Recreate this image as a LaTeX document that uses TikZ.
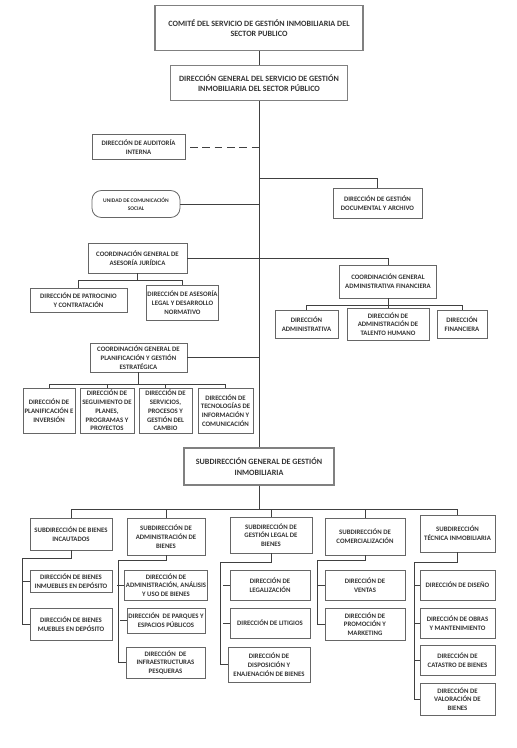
\documentclass[tikz,border=0pt]{standalone}
\usepackage{fontspec}
\setmainfont{Carlito}
\begin{document}
\begin{tikzpicture}[x=0.3mm,y=-0.3mm]
    \tikzstyle{box}=[draw=black!60,line width=0.7pt,align=center,inner sep=1pt,text=black!80,font=\fontsize{5.8}{7.5}\selectfont\bfseries]
    \tikzstyle{head}=[box,draw=black!50,line width=1.5pt,font=\fontsize{6.9}{8.8}\selectfont\bfseries]
    \tikzstyle{link}=[draw=black!75,line width=0.6pt]
    \tikzset{sz/.style 2 args={minimum width=#1*0.3mm,minimum height=#2*0.3mm}}
    \useasboundingbox (0,0) rectangle (517,748);

    % upper part
    \node[head,sz={208}{45}] (comite) at (259,28) {COMITÉ DEL SERVICIO DE GESTIÓN INMOBILIARIA DEL\\SECTOR PUBLICO};
    \node[head,sz={177}{35}] (dirgen) at (259,83) {DIRECCIÓN GENERAL DEL SERVICIO DE GESTIÓN\\INMOBILIARIA DEL SECTOR PÚBLICO};
    \node[box,sz={93}{25}] (auditoria) at (138.5,147) {DIRECCIÓN DE AUDITORÍA\\INTERNA};
    \node[box,sz={88}{27},rounded corners=8pt,font=\fontsize{4.7}{7}\selectfont\bfseries] (unidad) at (136,204) {UNIDAD DE COMUNICACIÓN\\SOCIAL};
    \node[box,sz={89}{30}] (documental) at (377.5,203) {DIRECCIÓN DE GESTIÓN\\DOCUMENTAL Y ARCHIVO};

    \node[box,sz={99}{30}] (asesoria) at (137.5,258) {COORDINACIÓN GENERAL DE\\ASESORÍA JURÍDICA};
    \node[box,sz={97}{24}] (patrocinio) at (78.5,300) {DIRECCIÓN DE PATROCINIO\\Y CONTRATACIÓN};
    \node[box,sz={69}{35}] (asesorialegal) at (182.5,302.5) {DIRECCIÓN DE ASESORÍA\\LEGAL Y DESARROLLO\\NORMATIVO};

    \node[box,sz={97}{33}] (cgaf) at (388,281.5) {COORDINACIÓN GENERAL\\ADMINISTRATIVA FINANCIERA};
    \node[box,sz={63}{28}] (administrativa) at (306.5,324) {DIRECCIÓN\\ADMINISTRATIVA};
    \node[box,sz={82}{32}] (talento) at (388,324) {DIRECCIÓN DE\\ADMINISTRACIÓN DE\\TALENTO HUMANO};
    \node[box,sz={50}{28}] (financiera) at (462,324) {DIRECCIÓN\\FINANCIERA};

    \node[box,sz={97}{29}] (planificacion) at (138.5,357.5) {COORDINACIÓN GENERAL DE\\PLANIFICACIÓN Y GESTIÓN\\ESTRATÉGICA};
    \node[box,sz={52}{45}] (planinv) at (49,410.5) {DIRECCIÓN DE\\PLANIFICACIÓN E\\INVERSIÓN};
    \node[box,sz={54}{45}] (seguimiento) at (107,410.5) {DIRECCIÓN DE\\SEGUIMIENTO DE\\PLANES,\\PROGRAMAS Y\\PROYECTOS};
    \node[box,sz={53}{45}] (servicios) at (165.5,410.5) {DIRECCIÓN DE\\SERVICIOS,\\PROCESOS Y\\GESTIÓN DEL\\CAMBIO};
    \node[box,sz={55}{45}] (tecnologias) at (225.5,410.5) {DIRECCIÓN DE\\TECNOLOGÍAS DE\\INFORMACIÓN Y\\COMUNICACIÓN};

    % lower part
    \node[head,sz={150}{37}] (subgen) at (259,466.5) {SUBDIRECCIÓN GENERAL DE GESTIÓN\\INMOBILIARIA};

    \node[box,sz={82}{32}] (incautados) at (71,534) {SUBDIRECCIÓN DE BIENES\\INCAUTADOS};
    \node[box,sz={78}{37}] (admbienes) at (166,536.5) {SUBDIRECCIÓN DE\\ADMINISTRACIÓN DE\\BIENES};
    \node[box,sz={82}{36}] (gestlegal) at (271,535) {SUBDIRECCIÓN DE\\GESTIÓN LEGAL DE\\BIENES};
    \node[box,sz={80}{37}] (comerc) at (365,536.5) {SUBDIRECCIÓN DE\\COMERCIALIZACIÓN};
    \node[box,sz={75}{37}] (tecnica) at (457.5,533.5) {SUBDIRECCIÓN\\TÉCNICA INMOBILIARIA};

    \node[box,sz={82}{22}] (inmuebles) at (71,581) {DIRECCIÓN DE BIENES\\INMUEBLES EN DEPÓSITO};
    \node[box,sz={82}{32}] (muebles) at (71,624) {DIRECCIÓN DE BIENES\\MUEBLES EN DEPÓSITO};

    \node[box,sz={78}{30}] (analisis) at (166,585) {DIRECCIÓN DE\\ADMINISTRACIÓN, ANÁLISIS\\Y USO DE BIENES};
    \node[box,sz={78}{25}] (parques) at (166,620.5) {DIRECCIÓN \ DE PARQUES Y\\ESPACIOS PÚBLICOS};
    \node[box,sz={79}{31}] (pesqueras) at (165.5,662.5) {DIRECCIÓN \ DE\\INFRAESTRUCTURAS\\PESQUERAS};

    \node[box,sz={80}{30}] (legalizacion) at (270,585) {DIRECCIÓN DE\\LEGALIZACIÓN};
    \node[box,sz={80}{30}] (litigios) at (270,623) {DIRECCIÓN DE LITIGIOS};
    \node[box,sz={82}{35}] (disposicion) at (269,664.5) {DIRECCIÓN DE\\DISPOSICIÓN Y\\ENAJENACIÓN DE BIENES};

    \node[box,sz={80}{30}] (ventas) at (365,585) {DIRECCIÓN DE\\VENTAS};
    \node[box,sz={80}{32}] (promocion) at (365,624) {DIRECCIÓN DE\\PROMOCIÓN Y\\MARKETING};

    \node[box,sz={75}{30}] (diseno) at (457.5,585) {DIRECCIÓN DE DISEÑO};
    \node[box,sz={75}{30}] (obras) at (457.5,623) {DIRECCIÓN DE OBRAS\\Y MANTENIMIENTO};
    \node[box,sz={75}{30}] (catastro) at (457.5,660) {DIRECCIÓN DE\\CATASTRO DE BIENES};
    \node[box,sz={75}{32}] (valoracion) at (457.5,699) {DIRECCIÓN DE\\VALORACIÓN DE\\BIENES};

    % connectors
    \draw[link] (comite) -- (dirgen);
    \draw[link] (dirgen) -- (subgen);
    \draw[link,dash pattern=on 6.5pt off 4pt,shorten <=4pt] (auditoria.east) -- (auditoria.east -| dirgen);
    \draw[link] (unidad) -- (unidad -| dirgen);
    \draw[link] (documental.north) -- ++(0,-9) -| (dirgen.south);
    \draw[link] (asesoria.east) -| (cgaf.north);
    \draw[link] (planificacion.east) -- (planificacion -| dirgen);

    \draw[link] (asesoria.south) -- ++(0,7) -| (patrocinio.north);
    \draw[link] (asesoria.south) -- ++(0,7) -| (asesorialegal.north);
    \draw[link] (cgaf.south) -- ++(0,7) -| (administrativa.north);
    \draw[link] (cgaf) -- (talento);
    \draw[link] (cgaf.south) -- ++(0,7) -| (financiera.north);
    \draw[link] (planificacion.south) -- ++(0,12) -| (planinv.north);
    \draw[link] (planificacion.south) -- ++(0,12) -| (seguimiento.north);
    \draw[link] (planificacion.south) -- ++(0,12) -| (servicios.north);
    \draw[link] (planificacion.south) -- ++(0,12) -| (tecnologias.north);

    \draw[link] (subgen.south) -- ++(0,23) -| (incautados.north);
    \draw[link] (subgen.south) -- ++(0,23) -| (admbienes.north);
    \draw[link] (subgen.south) -- ++(0,23) -| (gestlegal.north);
    \draw[link] (subgen.south) -- ++(0,23) -| (comerc.north);
    \draw[link] (subgen.south) -- ++(0,23) -| (tecnica.north);

    \draw[link] (incautados.south) -- ++(0,8) -| ([xshift=-2.1mm]muebles.west) -- (muebles.west);
    \draw[link] (inmuebles.west) -- ++(-7,0);
    \draw[link] (admbienes.south) -- ++(0,5) -| ([xshift=-2.1mm]pesqueras.west) -- (pesqueras.west);
    \draw[link] (analisis.west) -- ++(-7,0);
    \draw[link] (parques.west) -- ++(-7,0);
    \draw[link] (gestlegal.south) -- ++(0,9) -| ([xshift=-2.1mm]disposicion.west) -- (disposicion.west);
    \draw[link] (legalizacion.west) -- ++(-7,0);
    \draw[link] (litigios.west) -- ++(-7,0);
    \draw[link] (comerc.south) -- ++(0,5) -| ([xshift=-2.1mm]promocion.west) -- (promocion.west);
    \draw[link] (ventas.west) -- ++(-7,0);
    \draw[link] (tecnica.south) -- ++(0,10) -| ([xshift=-1.5mm]valoracion.west) -- (valoracion.west);
    \draw[link] (diseno.west) -- ++(-5,0);
    \draw[link] (obras.west) -- ++(-5,0);
    \draw[link] (catastro.west) -- ++(-5,0);
\end{tikzpicture}
\end{document}
